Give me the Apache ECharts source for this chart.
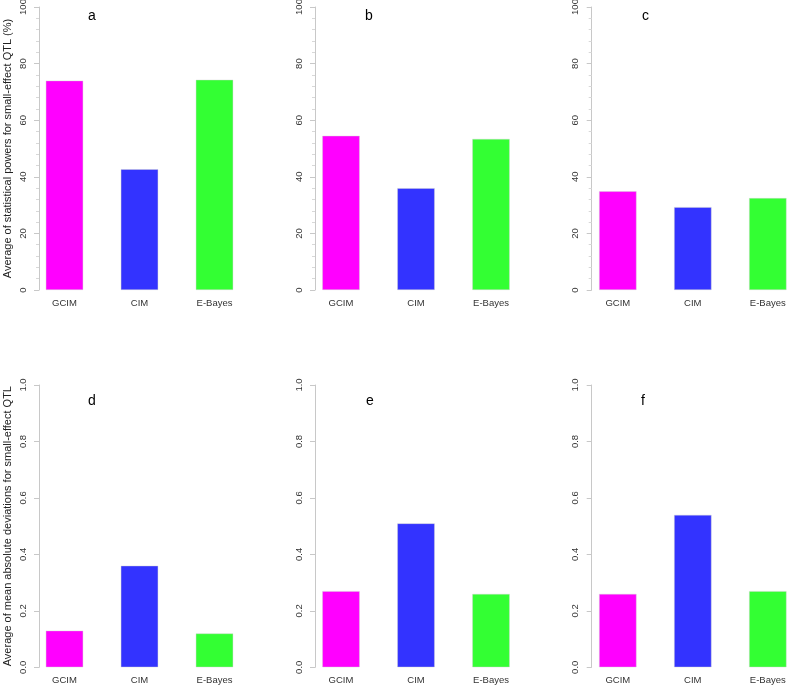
<!DOCTYPE html>
<html>
<head>
<meta charset="utf-8">
<script src="https://cdn.jsdelivr.net/npm/echarts@6/dist/echarts.min.js"></script>
<style>html,body{margin:0;padding:0;background:#fff}#c{width:787px;height:687px}</style>
</head>
<body>
<div id="c"></div>
<script>
const categories = ['GCIM', 'CIM', 'E-Bayes'];
const barColors = ['#FF00FF', '#3333FF', '#33FF33'];
const powerA = [74.0, 42.7, 74.3];
const powerB = [54.5, 36.0, 53.4];
const powerC = [34.9, 29.3, 32.5];
const madD = [0.13, 0.36, 0.12];
const madE = [0.27, 0.51, 0.26];
const madF = [0.26, 0.54, 0.27];
const panelLetters = ['a', 'b', 'c', 'd', 'e', 'f'];
const powerTicks = { min: 0, max: 100, interval: 20 };
const madTicks = { min: 0, max: 1, interval: 0.2 };
const yTitleTop = 'Average of statistical powers for small-effect QTL (%)';
const yTitleBottom = 'Average of mean absolute deviations for small-effect QTL';

const panels = [powerA, powerB, powerC, madD, madE, madF];
const colLefts = [27, 303.5, 580.3];
const axisX = [39, 315, 591.7];
const rowTops = [7, 385];
const rowHeights = [283, 282.3];
const letterPos = [[88, 9], [365, 9], [642, 9], [88, 394], [366, 394], [641, 394]];
const FONT = "'Liberation Sans', Arial, sans-serif";

const grids = [], xAxes = [], yAxes = [], series = [], titles = [];
panels.forEach((vals, i) => {
  const r = Math.floor(i / 3), c = i % 3;
  grids.push({ left: colLefts[c], top: rowTops[r], width: 225, height: rowHeights[r], containLabel: false, outerBoundsMode: 'none' });
  xAxes.push({
    type: 'category', gridIndex: i, data: categories,
    axisLine: { show: false }, axisTick: { show: false },
    axisLabel: { color: '#333', fontSize: 9.5, fontFamily: FONT, margin: 8 }
  });
  const t = r === 0 ? powerTicks : madTicks;
  yAxes.push({
    type: 'value', gridIndex: i, min: t.min, max: t.max, interval: t.interval,
    offset: -(axisX[c] - colLefts[c]),
    splitLine: { show: false },
    axisLine: { show: true, lineStyle: { color: '#c8c8c8', width: 1 } },
    axisTick: { show: true, length: 5, lineStyle: { color: '#c8c8c8' } },
    minorTick: { show: r === 0, splitNumber: 5, length: 3, lineStyle: { color: '#d8d8d8' } },
    axisLabel: {
      rotate: 90, color: '#333', fontSize: 9.5, fontFamily: FONT, margin: 11,
      formatter: v => r === 0 ? String(v) : v.toFixed(1)
    },
    name: c === 0 ? (r === 0 ? yTitleTop : yTitleBottom) : '',
    nameLocation: 'middle', nameRotate: 90, nameGap: 26, nameMoveOverlap: false,
    nameTextStyle: { color: '#222', fontSize: 11, fontFamily: FONT }
  });
  series.push({
    type: 'bar', xAxisIndex: i, yAxisIndex: i, barWidth: '50%',
    data: vals.map((v, k) => ({ value: v, itemStyle: { color: barColors[k] } })),
    itemStyle: { borderColor: 'rgba(210,210,210,0.7)', borderWidth: 0.6 },
    silent: true
  });
  titles.push({
    text: panelLetters[i], left: letterPos[i][0], top: letterPos[i][1], padding: 0,
    textStyle: { color: '#000', fontSize: 14, fontWeight: 'normal', fontFamily: FONT }
  });
});

const chart = echarts.init(document.getElementById('c'), null, { renderer: 'canvas' });
chart.setOption({
  animation: false,
  backgroundColor: '#fff',
  title: titles,
  grid: grids,
  xAxis: xAxes,
  yAxis: yAxes,
  series: series
});
</script>
</body>
</html>
